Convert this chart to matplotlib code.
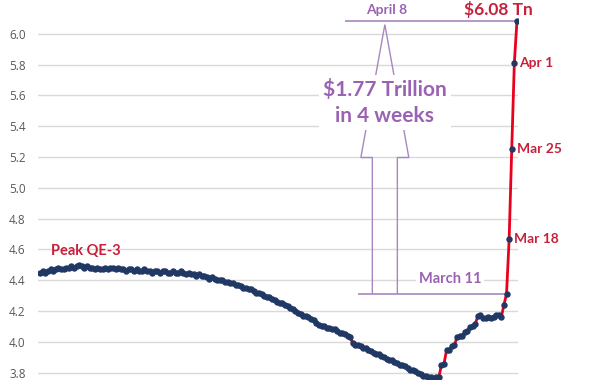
import matplotlib
matplotlib.use("Agg")
import matplotlib.pyplot as plt
from matplotlib.patches import Polygon
import numpy as np

# Fed total assets, $ trillions, weekly
assets = [
    4.45, 4.46, 4.45, 4.46, 4.47, 4.46, 4.47, 4.48, 4.47, 4.47,
    4.48, 4.48, 4.49, 4.48, 4.49, 4.50, 4.49, 4.48, 4.49, 4.48,
    4.48, 4.47, 4.48, 4.47, 4.47, 4.48, 4.47, 4.48, 4.48, 4.47,
    4.48, 4.47, 4.47, 4.46, 4.47, 4.47, 4.46, 4.47, 4.46, 4.46,
    4.47, 4.46, 4.46, 4.45, 4.46, 4.46, 4.45, 4.46, 4.46, 4.45,
    4.45, 4.46, 4.45, 4.45, 4.46, 4.45, 4.44, 4.45, 4.44, 4.44,
    4.43, 4.44, 4.43, 4.43, 4.42, 4.41, 4.42, 4.41, 4.40, 4.40,
    4.40, 4.39, 4.39, 4.38, 4.38, 4.37, 4.37, 4.36, 4.35, 4.35,
    4.34, 4.34, 4.33, 4.32, 4.32, 4.31, 4.30, 4.29, 4.29, 4.28,
    4.27, 4.26, 4.25, 4.25, 4.24, 4.23, 4.22, 4.21, 4.20, 4.19,
    4.18, 4.17, 4.17, 4.16, 4.15, 4.14, 4.12, 4.11, 4.10, 4.10,
    4.09, 4.09, 4.08, 4.08, 4.07, 4.06, 4.06, 4.05, 4.04, 4.03,
    3.99, 3.98, 3.98, 3.97, 3.96, 3.96, 3.95, 3.94, 3.93, 3.92,
    3.92, 3.91, 3.90, 3.89, 3.88, 3.88, 3.87, 3.86, 3.85, 3.85,
    3.84, 3.83, 3.82, 3.82, 3.81, 3.80, 3.79, 3.78, 3.78, 3.77,
    3.77, 3.76, 3.773, 3.769, 3.848, 3.858, 3.946, 3.946, 3.971, 3.977,
    4.032, 4.039, 4.041, 4.061, 4.070, 4.095, 4.101, 4.118, 4.165, 4.174,
    4.152, 4.154, 4.161, 4.154, 4.160, 4.175, 4.171, 4.159, 4.241, 4.311,
    4.666, 5.254, 5.813, 6.083,
]
# labelled weeks at the end of the series
week_labels = ["Mar 18", "Apr 1", "Mar 25"]
week_offsets = [-4, -2, -3]  # position from the end
yticks = [3.8, 4.0, 4.2, 4.4, 4.6, 4.8, 5.0, 5.2, 5.4, 5.6, 5.8, 6.0]

RED = "#c8203a"
PURPLE = "#9a62b3"
ARROW = "#a887c0"
NAVY = "#203864"

plt.rcParams["font.family"] = ["Lato", "DejaVu Sans"]

weeks = np.arange(len(assets))
last = len(assets) - 1
start_val = assets[-5]   # March 11
end_val = assets[-1]     # April 8

fig = plt.figure(figsize=(6, 3.8), dpi=100)
ax = fig.add_axes([38 / 600, 0, 480 / 600, 1])

ax.plot(weeks, assets, color="#e8001c", lw=2, zorder=3)
ax.plot(weeks, assets, ls="none", marker="o", ms=3.6, color=NAVY, zorder=4)

ax.set_xlim(-0.8, last + 0.4)
ax.set_ylim(3.752, 6.22)
ax.set_yticks(yticks)
ax.set_yticklabels([f"{v:.1f}" for v in yticks], family=["Open Sans", "DejaVu Sans"],
                   fontsize=8.5, color="#595959")
ax.tick_params(axis="y", length=0, pad=9)
ax.set_xticks([])
ax.grid(axis="y", color="#d9d9d9", lw=1)
ax.set_axisbelow(True)
for s in ax.spines.values():
    s.set_visible(False)

# big hollow arrow from March 11 level to April 8 level
cx = 132.3
shaft = 4.8
head = 9.2
head_base = 5.197
tip = 6.06
arrow_pts = [(cx - shaft, start_val), (cx - shaft, head_base), (cx - head, head_base),
             (cx, tip), (cx + head, head_base), (cx + shaft, head_base), (cx + shaft, start_val)]
ax.add_patch(Polygon(arrow_pts, closed=False, fill=False, edgecolor=ARROW, lw=1, zorder=2))

ax.hlines(end_val, 117, last, color=ARROW, lw=1.2, zorder=2)
ax.hlines(start_val, 122, last - 4, color=ARROW, lw=1.2, zorder=2)

ax.text(cx, 5.553, "$1.77 Trillion\nin 4 weeks", ha="center", va="center", color=PURPLE,
        fontsize=15, fontweight="bold", linespacing=1.35, zorder=5,
        bbox=dict(facecolor="white", edgecolor="none", pad=3))
ax.text(133, 6.155, "April 8", ha="center", va="center", color=PURPLE,
        fontsize=10, fontweight="bold")
ax.text(157.3, 4.405, "March 11", ha="center", va="center", color=PURPLE,
        fontsize=10.5, fontweight="bold", zorder=5,
        bbox=dict(facecolor="white", edgecolor="none", pad=2))
ax.text(175.7, 6.16, "$6.08 Tn", ha="center", va="center", color=RED,
        fontsize=12.5, fontweight="bold")
for lab, off in zip(week_labels, week_offsets):
    i = last + 1 + off
    ax.text(i + 2.0, assets[i], lab, ha="left", va="center", color=RED,
            fontsize=10, fontweight="bold")
ax.text(4, 4.59, "Peak QE-3", ha="left", va="center", color=RED,
        fontsize=10.5, fontweight="bold")

fig.savefig("out.png", dpi=100)
